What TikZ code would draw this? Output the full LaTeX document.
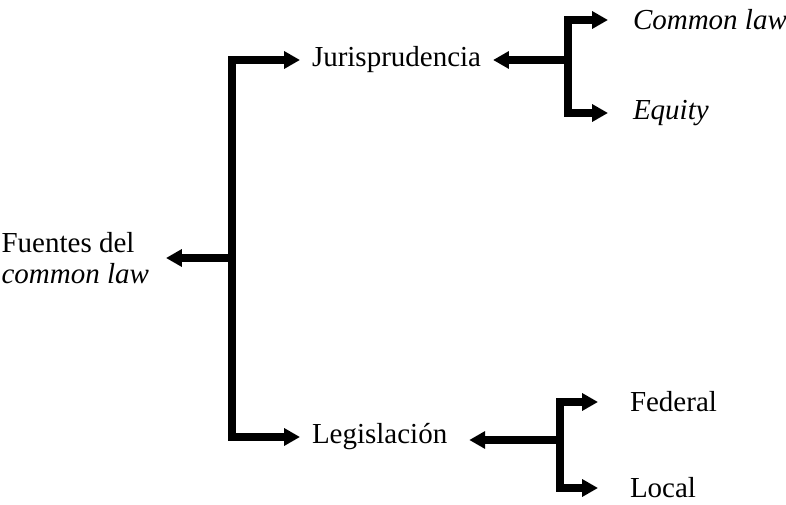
\documentclass[tikz,border=0pt]{standalone}
\usepackage{fontspec}
\setmainfont{Liberation Serif}
\usetikzlibrary{arrows.meta}

\begin{document}
\begin{tikzpicture}

\useasboundingbox (0,0) rectangle (15.72,10.1);

\tikzset{TextNode/.style={inner sep=0pt, outer sep=2.4mm, font=\fontsize{16.5}{17.5}\selectfont}}

\begin{scope}[every node/.style={TextNode}]
    % Root
    \node (F) at (3.32,4.94) [anchor=east, align=left, outer sep=3.4mm] {Fuentes del\\ \textit{common law}};

    % Second level
    \node (J) at (6.0,8.9) [anchor=west] {Jurisprudencia};
    \node (L) at (6.0,1.36) [anchor=west] {Legislación};

    % Third level
    \node (C) at (12.16,9.7) [anchor=west, outer sep=5mm] {\textit{Common law}};
    \node (E) at (12.16,7.84) [anchor=west, outer sep=5mm] {\textit{Equity}};
    \node (D) at (11.96,2.06) [anchor=west, outer sep=6.4mm] {Federal};
    \node (P) at (11.96,0.34) [anchor=west, outer sep=6.4mm] {Local};
\end{scope}

% Junctions
\coordinate (FJ) at (4.64,4.94);
\coordinate (JJ) at (11.36,8.9);
\coordinate (LJ) at (11.2,1.3);

\begin{scope}[>={Triangle[length=9pt,width=9.5pt]}, line width=4.2pt]
    \draw [->] (FJ) -- (F);
    \draw [->] (FJ) |- (J);
    \draw [->] (FJ) |- (L);

    \draw [->] (JJ) -- (J);
    \draw [->] (JJ) |- (C);
    \draw [->] (JJ) |- (E);

    \draw [->] (LJ) -- ([xshift=2mm]L.east |- LJ);
    \draw [->] (LJ) |- (D);
    \draw [->] (LJ) |- (P);
\end{scope}

\end{tikzpicture}
\end{document}
